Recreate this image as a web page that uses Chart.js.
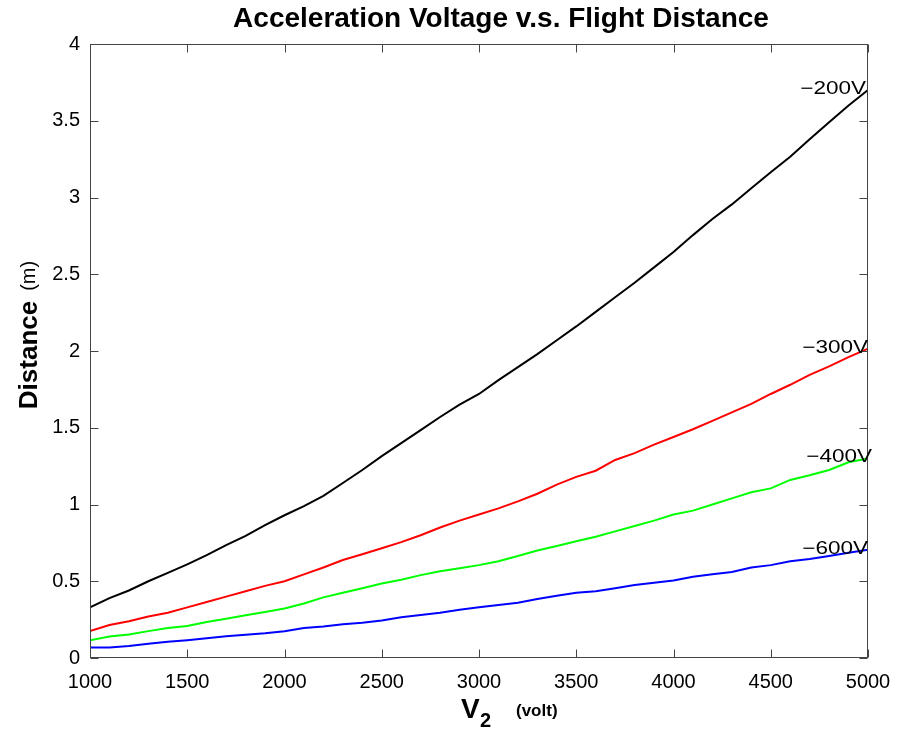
<!DOCTYPE html>
<html><head><meta charset="utf-8">
<script src="https://cdn.jsdelivr.net/npm/chart.js@4.4.1/dist/chart.umd.min.js"></script>
<style>html,body{margin:0;padding:0;background:#fff}#wrap{width:898px;height:735px}</style>
</head><body><div id="wrap"><canvas id="c" width="898" height="735"></canvas></div>
<script>
const voltages = [1000,1100,1200,1300,1400,1500,1600,1700,1800,1900,2000,2100,2200,2300,2400,2500,2600,2700,2800,2900,3000,3100,3200,3300,3400,3500,3600,3700,3800,3900,4000,4100,4200,4300,4400,4500,4600,4700,4800,4900,5000];
const seriesNames = ["\u2212200V","\u2212300V","\u2212400V","\u2212600V"];
const dist200 = [0.33,0.39,0.44,0.50,0.555,0.61,0.67,0.735,0.795,0.865,0.93,0.99,1.056,1.14,1.225,1.315,1.40,1.485,1.57,1.65,1.72,1.81,1.895,1.98,2.07,2.16,2.255,2.35,2.445,2.545,2.645,2.755,2.86,2.955,3.06,3.165,3.265,3.38,3.49,3.60,3.70];
const dist300 = [0.175,0.215,0.24,0.27,0.295,0.33,0.365,0.40,0.435,0.47,0.50,0.545,0.59,0.638,0.676,0.715,0.755,0.80,0.85,0.895,0.935,0.975,1.02,1.07,1.13,1.18,1.22,1.29,1.335,1.39,1.44,1.49,1.545,1.60,1.655,1.72,1.78,1.845,1.90,1.96,2.015];
const dist400 = [0.115,0.14,0.153,0.175,0.195,0.208,0.235,0.256,0.278,0.30,0.322,0.355,0.395,0.425,0.455,0.485,0.51,0.54,0.565,0.585,0.605,0.63,0.665,0.70,0.73,0.76,0.79,0.825,0.86,0.895,0.935,0.96,1.00,1.04,1.08,1.105,1.16,1.19,1.225,1.275,1.30];
const dist600 = [0.068,0.068,0.078,0.093,0.106,0.116,0.128,0.141,0.152,0.162,0.175,0.195,0.205,0.22,0.23,0.245,0.265,0.28,0.295,0.315,0.33,0.345,0.36,0.385,0.405,0.425,0.435,0.455,0.475,0.49,0.505,0.53,0.545,0.56,0.59,0.605,0.63,0.645,0.665,0.685,0.705];
const xTicks = [1000,1500,2000,2500,3000,3500,4000,4500,5000];
const yTicks = [0,0.5,1,1.5,2,2.5,3,3.5,4];
const colors = ["#000000","#ff0000","#00ff00","#0000ff"];
const allSeries = [dist200, dist300, dist400, dist600];

const FONT = "'Liberation Sans', Arial, sans-serif";

const decor = {
  id: 'decor',
  afterDraw(chart) {
    const ctx = chart.ctx, a = chart.chartArea;
    const xs = chart.scales.x, ys = chart.scales.y;
    ctx.save();
    ctx.strokeStyle = '#444';
    ctx.lineWidth = 1;
    const L = Math.round(a.left) + 0.5, R = Math.round(a.right) - 0.5, T = Math.round(a.top) + 0.5, B = Math.round(a.bottom) - 0.5;
    ctx.strokeRect(L, T, R - L, B - T);
    const tl = 8;
    ctx.beginPath();
    xTicks.forEach(v => {
      const p = Math.round(xs.getPixelForValue(v)) + 0.5;
      ctx.moveTo(p, B); ctx.lineTo(p, B - tl);
      ctx.moveTo(p, T); ctx.lineTo(p, T + tl);
    });
    yTicks.forEach(v => {
      const p = Math.round(ys.getPixelForValue(v)) + 0.5;
      ctx.moveTo(L, p); ctx.lineTo(L + tl, p);
      ctx.moveTo(R, p); ctx.lineTo(R - tl, p);
    });
    ctx.stroke();

    ctx.fillStyle = '#000';
    ctx.font = "bold 28px " + FONT;
    ctx.textAlign = 'center';
    ctx.textBaseline = 'alphabetic';
    ctx.fillText('Acceleration Voltage v.s. Flight Distance', 501, 27);

    ctx.save();
    ctx.translate(37, 335);
    ctx.rotate(-Math.PI / 2);
    ctx.textAlign = 'left';
    ctx.font = "bold 26px " + FONT;
    const w1 = ctx.measureText('Distance').width;
    ctx.font = "20px " + FONT;
    const w2 = ctx.measureText('(m)').width;
    const gap = 10;
    const start = -(w1 + gap + w2) / 2;
    ctx.font = "bold 26px " + FONT;
    ctx.fillText('Distance', start, 0);
    ctx.font = "20px " + FONT;
    ctx.fillText('(m)', start + w1 + gap, -2);
    ctx.restore();

    ctx.textAlign = 'left';
    ctx.font = "bold 28px " + FONT;
    ctx.fillText('V', 461, 718);
    ctx.font = "bold 20px " + FONT;
    ctx.fillText('2', 480, 727);
    ctx.font = "bold 17px " + FONT;
    ctx.fillText('(volt)', 516, 716);

    ctx.textAlign = 'right';
    ctx.textBaseline = 'middle';
    ctx.font = "18px " + FONT;
    const rightX = [866, 868, 872, 868];
    allSeries.forEach((s, i) => {
      const yv = ys.getPixelForValue(s[s.length - 1]);
      ctx.save();
      ctx.translate(rightX[i], yv - 1);
      ctx.scale(1.25, 1);
      ctx.fillText(seriesNames[i], 0, 0);
      ctx.restore();
    });
    ctx.restore();
  }
};

new Chart(document.getElementById('c'), {
  type: 'line',
  data: {
    labels: voltages,
    datasets: allSeries.map((s, i) => ({
      label: seriesNames[i],
      data: voltages.map((v, j) => ({x: v, y: s[j]})),
      borderColor: colors[i],
      borderWidth: 2,
      pointRadius: 0,
      tension: 0,
      fill: false
    }))
  },
  options: {
    responsive: false,
    animation: false,
    devicePixelRatio: 1,
    layout: {padding: {left: 0, top: 44, right: 30, bottom: 0}},
    plugins: {legend: {display: false}, title: {display: false}, tooltip: {enabled: false}},
    scales: {
      x: {
        type: 'linear', min: 1000, max: 5000,
        afterBuildTicks: s => { s.ticks = xTicks.map(v => ({value: v})); },
        afterFit: s => { s.height = 77; s.paddingLeft = 0; s.paddingRight = 0; },
        grid: {display: false, drawTicks: false}, border: {display: false},
        ticks: {color: '#000', font: {size: 20, family: FONT}, padding: 12, maxRotation: 0, autoSkip: false,
                callback: v => String(v)}
      },
      y: {
        type: 'linear', min: 0, max: 4,
        afterBuildTicks: s => { s.ticks = yTicks.map(v => ({value: v})); },
        afterFit: s => { s.width = 90; s.paddingTop = 0; s.paddingBottom = 0; },
        grid: {display: false, drawTicks: false}, border: {display: false},
        ticks: {color: '#000', font: {size: 20, family: FONT}, padding: 10,
                callback: v => String(v)}
      }
    }
  },
  plugins: [decor]
});
</script></body></html>
